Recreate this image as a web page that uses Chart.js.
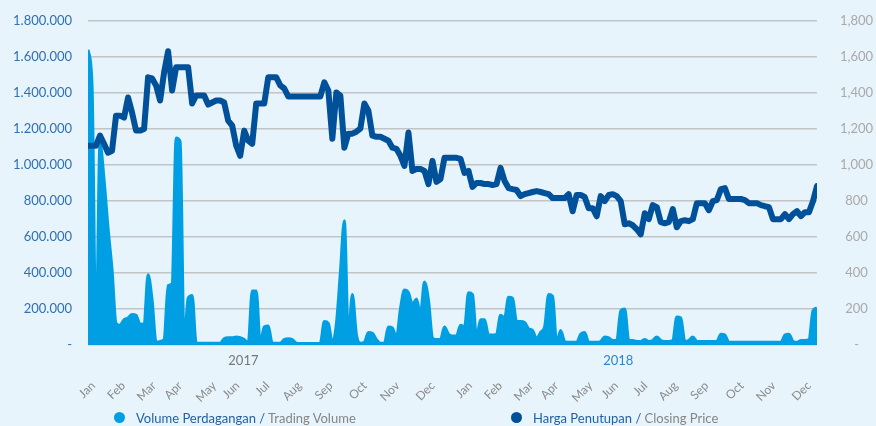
<!DOCTYPE html>
<html><head><meta charset="utf-8">
<script src="https://cdn.jsdelivr.net/npm/chart.js@4.4.1/dist/chart.umd.min.js"></script>
<style>
html,body{margin:0;padding:0;background:#e8f4fc;}
#wrap{position:relative;width:876px;height:426px;background:#e8f4fc;overflow:hidden;}
#c{position:absolute;left:0;top:0;}
.item{position:absolute;top:409px;white-space:nowrap;line-height:18px;font-family:Lato,"Open Sans",sans-serif;font-size:13px;}
.dot{position:absolute;top:3px;width:11px;height:11px;border-radius:50%;}
.lbl{position:absolute;left:22px;top:0;}
.b{color:#1f60a6}.g{color:#858585}
</style></head>
<body>
<div id="wrap">
<canvas id="c" width="876" height="426"></canvas>
<div class="item" style="left:114px"><span class="dot" style="background:#009fe3"></span><span class="lbl"><span class="b">Volume Perdagangan /</span> <span class="g">Trading Volume</span></span></div>
<div class="item" style="left:511px"><span class="dot" style="background:#00509a"></span><span class="lbl"><span class="b">Harga Penutupan /</span> <span class="g">Closing Price</span></span></div>
</div>
<script>
// Closing price (IDR), sampled along the two-year period
const closingPrice = [
1107,1107,1107,1163,1118,1068,1079,1274,1274,1263,
1375,1291,1191,1191,1200,1487,1481,1442,1358,1515,
1632,1414,1543,1543,1543,1543,1342,1386,1386,1386,
1336,1347,1358,1358,1347,1247,1219,1107,1051,1191,
1135,1118,1342,1342,1342,1487,1487,1487,1442,1425,
1381,1381,1381,1381,1381,1381,1381,1381,1381,1459,
1414,1146,1403,1386,1096,1174,1174,1185,1202,1342,
1302,1163,1157,1157,1146,1135,1096,1090,1051,995,
1180,967,978,978,967,894,1023,906,922,1040,
1040,1040,1040,1034,956,967,878,900,900,894,
894,889,894,984,911,872,866,861,827,838,
844,850,855,850,844,838,816,816,816,816,
838,743,833,833,822,760,760,715,827,799,
833,838,827,799,671,676,665,643,615,732,
699,777,766,682,676,682,755,654,688,693,
688,699,788,788,788,749,799,805,866,872,
811,811,811,811,805,788,788,788,777,771,
766,699,699,699,727,699,727,744,716,738,
738,799,883];

// Trading volume (shares), same sampling
const tradingVolume = [
1640000,1450000,20000,1120000,920000,650000,420000,120000,110000,140000,
150000,170000,165000,115000,120000,390000,250000,15000,20000,30000,
330000,340000,1150000,1130000,15000,260000,275000,10000,10000,10000,
10000,10000,10000,10000,35000,40000,40000,45000,40000,30000,
10000,300000,300000,10000,100000,105000,10000,10000,10000,30000,
35000,30000,10000,8000,8000,8000,8000,8000,10000,130000,
120000,10000,115000,400000,690000,50000,280000,60000,10000,15000,
70000,65000,30000,10000,10000,100000,95000,40000,200000,305000,
290000,225000,255000,170000,350000,250000,40000,30000,30000,100000,
60000,50000,50000,110000,100000,290000,280000,40000,140000,140000,
55000,55000,60000,165000,150000,265000,260000,130000,130000,125000,
90000,80000,35000,70000,100000,280000,270000,10000,80000,20000,
15000,15000,15000,60000,70000,15000,15000,15000,20000,45000,
40000,25000,25000,190000,200000,25000,25000,20000,20000,30000,
20000,25000,45000,25000,20000,20000,25000,155000,150000,20000,
25000,45000,20000,20000,20000,20000,20000,20000,60000,55000,
15000,15000,15000,15000,15000,15000,15000,15000,15000,15000,
15000,15000,15000,15000,55000,60000,20000,15000,25000,25000,
30000,190000,205000];

const monthLabels = ['Jan','Feb','Mar','Apr','May','Jun','Jul','Aug','Sep','Oct','Nov','Dec',
                     'Jan','Feb','Mar','Apr','May','Jun','Jul','Aug','Sep','Oct','Nov','Dec'];
const monthTickIdx = [1.3,8.8,16.5,23,31.5,37.3,44.8,52.8,60.6,69.1,77.3,86.1,
                      95.4,102.9,110.6,116.9,125.4,131.9,139.2,146.7,154.4,163.2,171.2,180];
const yearLabels = ['2017','2018'];
const yearTickIdx = [38.8,132.4];

const leftTicks = [0,200000,400000,600000,800000,1000000,1200000,1400000,1600000,1800000];
const rightTicks = [0,200,400,600,800,1000,1200,1400,1600,1800];

const idx = closingPrice.map((_, i) => i);
const FONT = 'Lato, "Open Sans", sans-serif';
const noSidePad = (s) => { s.paddingLeft = 0; s.paddingRight = 0; };
const fixY = (w) => (s) => { s.width = w; s.paddingTop = 0; s.paddingBottom = 0; };

new Chart(document.getElementById('c'), {
  type: 'line',
  data: {
    labels: idx,
    datasets: [
      { label: 'Harga Penutupan / Closing Price', data: closingPrice, yAxisID: 'y1', xAxisID: 'x',
        borderColor: '#00509a', backgroundColor: '#00509a', borderWidth: 6, pointRadius: 0,
        tension: 0, fill: false, order: 0, borderJoinStyle: 'round', borderCapStyle: 'round' },
      { label: 'Volume Perdagangan / Trading Volume', data: tradingVolume, yAxisID: 'y', xAxisID: 'x',
        borderColor: '#009fe3', backgroundColor: '#009fe3', borderWidth: 3, pointRadius: 0,
        cubicInterpolationMode: 'monotone', fill: 'origin', order: 1, borderJoinStyle: 'round' }
    ]
  },
  options: {
    responsive: false, animation: false, events: [],
    layout: { autoPadding: false, padding: { left: 12, right: 0, top: 21, bottom: 19 } },
    plugins: { legend: { display: false }, tooltip: { enabled: false } },
    scales: {
      x: {
        type: 'linear', position: 'bottom', min: 0, max: closingPrice.length - 1, weight: 1,
        afterBuildTicks: (s) => { s.ticks = monthTickIdx.map(v => ({ value: v })); },
        afterFit: noSidePad,
        grid: { display: false, drawTicks: false }, border: { display: false },
        ticks: { autoSkip: false, minRotation: 45, maxRotation: 45, padding: 2,
          color: '#8a8a8a', font: { family: FONT, size: 12 },
          callback: (v, i) => monthLabels[i] }
      },
      x2: {
        type: 'linear', position: 'bottom', min: 0, max: closingPrice.length - 1, weight: 0,
        afterBuildTicks: (s) => { s.ticks = yearTickIdx.map(v => ({ value: v })); },
        afterFit: noSidePad,
        grid: { display: false, drawTicks: false }, border: { display: false },
        ticks: { autoSkip: false, maxRotation: 0, padding: 8,
          color: (c) => c.index === 1 ? '#2a86cc' : '#777777', font: { family: FONT, size: 13 },
          callback: (v, i) => yearLabels[i] }
      },
      y: {
        position: 'left', min: 0, max: 1800000,
        afterBuildTicks: (s) => { s.ticks = leftTicks.map(v => ({ value: v })); },
        afterFit: fixY(76),
        grid: { color: '#c2c4c6', lineWidth: 1.5, drawTicks: false }, border: { display: false },
        ticks: { padding: 16, color: '#2f6fb2', font: { family: FONT, size: 13 },
          callback: (v) => v === 0 ? '-' : v.toLocaleString('de-DE') }
      },
      y1: {
        position: 'right', min: 0, max: 1800,
        afterBuildTicks: (s) => { s.ticks = rightTicks.map(v => ({ value: v })); },
        afterFit: fixY(59),
        grid: { display: false, drawTicks: false }, border: { display: false },
        ticks: { padding: 23, crossAlign: 'center', color: '#a9a9a9', font: { family: FONT, size: 13 },
          callback: (v) => v === 0 ? '-' : v.toLocaleString('en-US') }
      }
    }
  }
});
</script>
</body></html>
